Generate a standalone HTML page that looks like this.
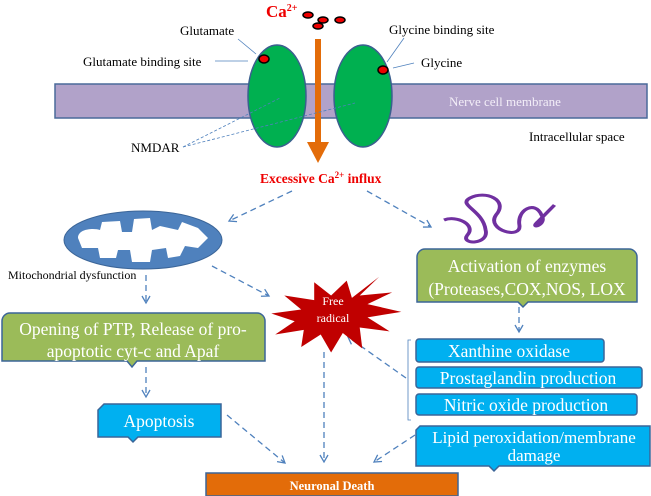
<!DOCTYPE html>
<html><head><meta charset="utf-8"><style>
body{margin:0;background:#fff;}
svg{display:block;font-family:"Liberation Serif",serif;}
</style></head><body>
<svg width="651" height="496" viewBox="0 0 651 496" xmlns="http://www.w3.org/2000/svg">
<defs>
<marker id="ah" markerWidth="10" markerHeight="10" refX="8" refY="5" orient="auto" markerUnits="userSpaceOnUse">
<path d="M1,1 L8,5 L1,9" fill="none" stroke="#4f81bd" stroke-width="1.3"/></marker>
</defs>
<!-- membrane -->
<rect x="55" y="84" width="592" height="34" fill="#b1a2c9" stroke="#4a6a9a" stroke-width="1.5"/>
<text x="449" y="106" font-size="13" fill="#f3eef8">Nerve cell membrane</text>
<!-- ellipses -->
<ellipse cx="277" cy="96" rx="29" ry="51" fill="#00b050" stroke="#3b5f8f" stroke-width="1.5"/>
<ellipse cx="363" cy="96" rx="29" ry="51" fill="#00b050" stroke="#3b5f8f" stroke-width="1.5"/>
<!-- arrow -->
<rect x="315" y="39" width="6" height="106" fill="#e36c09"/>
<polygon points="307,142 329,142 318,163" fill="#e36c09"/>
<text x="266" y="17" font-size="17" font-weight="bold" fill="#e00">Ca<tspan font-size="10" dy="-6">2+</tspan></text>
<g fill="#e00" stroke="#000" stroke-width="1.5">
<ellipse cx="308" cy="15" rx="5" ry="3"/><ellipse cx="323" cy="20" rx="5" ry="3"/>
<ellipse cx="340" cy="20" rx="5" ry="3"/><ellipse cx="318" cy="26" rx="5" ry="3"/>
<ellipse cx="264" cy="59" rx="5" ry="4"/><ellipse cx="383" cy="70" rx="5" ry="4"/>
</g>
<g font-size="13" fill="#000">
<text x="180" y="35">Glutamate</text>
<text x="83" y="66">Glutamate binding site</text>
<text x="389" y="34">Glycine binding site</text>
<text x="421" y="67">Glycine</text>
<text x="529" y="141">Intracellular space</text>
<text x="131" y="152">NMDAR</text>
</g>
<g stroke="#4f81bd" stroke-width="0.8" fill="none">
<line x1="238" y1="39" x2="256" y2="54"/><line x1="215" y1="61" x2="248" y2="61"/>
<line x1="404" y1="38" x2="387" y2="62"/><line x1="414" y1="63" x2="393" y2="68"/>
<line x1="183" y1="147" x2="280" y2="98" stroke-dasharray="3,2"/>
<line x1="183" y1="147" x2="355" y2="103" stroke-dasharray="3,2"/>
</g>
<text x="260" y="183" font-size="13.5" font-weight="bold" fill="#e00">Excessive Ca<tspan font-size="9" dy="-5">2+</tspan><tspan dy="5"> influx</tspan></text>
<!-- mitochondrion -->
<ellipse cx="143" cy="240" rx="79" ry="29" fill="#4f81bd" stroke="#3b6598"/>
<path d="M78,238 C78,228 95,228 100,230 L102,222 L120,221 L122,232 L132,232 L134,219 L150,218 L152,230 L160,226 L178,230 L182,222 L198,228 L208,238 L198,248 L185,246 L180,256 L168,258 L166,248 L152,250 L150,262 L132,262 L130,250 L118,250 L116,258 L100,258 L98,248 L82,248 Z" fill="#fff"/>
<text x="8" y="279" font-size="12">Mitochondrial dysfunction</text>
<!-- coil -->
<path transform="translate(444,0) scale(1.3,1) translate(-360,0)" d="M360,220 C370,215 385,225 378,235 C372,245 395,245 392,230 C390,210 370,205 380,198 C392,190 410,200 400,215 C392,230 420,240 418,225 C416,210 430,200 435,215 C440,225 425,230 432,222 L445,205" fill="none" stroke="#7030a0" stroke-width="3"/>
<!-- dashed arrows -->
<g stroke="#4f81bd" stroke-width="1.3" stroke-dasharray="6,4" fill="none" marker-end="url(#ah)">
<line x1="292" y1="191" x2="229" y2="221"/>
<line x1="367" y1="191" x2="431" y2="227"/>
<line x1="146" y1="275" x2="146" y2="303"/>
<line x1="212" y1="266" x2="269" y2="296"/>
<line x1="146" y1="367" x2="146" y2="397"/>
<line x1="519" y1="307" x2="519" y2="332"/>
<line x1="406" y1="378" x2="348" y2="337"/>
<line x1="227" y1="415" x2="285" y2="463"/>
<line x1="324" y1="352" x2="324" y2="462"/>
<line x1="415" y1="435" x2="374" y2="462"/>
</g>
<!-- star -->
<g transform="translate(335,315) scale(1.3,0.78) translate(-271,-297)">
<polygon points="305,248 290,272 315,268 296,283 322,293 296,300 313,318 290,313 292,340 277,320 268,345 260,322 245,338 247,316 225,322 240,305 222,295 245,290 232,272 255,278 255,255 268,272 280,253 284,275" fill="#c00000"/>
</g>
<text x="333" y="305" font-size="12" fill="#fff" text-anchor="middle">Free</text>
<text x="333" y="322" font-size="12" fill="#fff" text-anchor="middle">radical</text>
<!-- boxes -->
<g stroke="#3b6598" stroke-width="1.5">
<path d="M425,249 H629 a8,8 0 0 1 8,8 V302 H528 L523,307 L518,302 H417 V257 a8,8 0 0 1 8,-8Z" fill="#9bbb59"/>
<path d="M10,313 H257 a8,8 0 0 1 8,8 V361 H137 L132,367 L127,361 H2 V321 a8,8 0 0 1 8,-8Z" fill="#9bbb59"/>
<g fill="#00b0f0">
<rect x="416" y="339" width="188" height="23" rx="3"/>
<rect x="416" y="367" width="226" height="21" rx="3"/>
<rect x="416" y="394" width="221" height="21" rx="3"/>
<path d="M420,426 H650 V466 H499 L494,471 L489,466 H416 V430Z"/>
<path d="M104,404 H221 V437 H138 L133,442 L128,437 H98 V410Z"/>
</g>
</g>
<rect x="206" y="473" width="252" height="23" fill="#e36c09" stroke="#3b6598" stroke-width="1.5"/>
<path d="M411,340 H408 V420 H411" fill="none" stroke="#4f81bd" stroke-width="0.8"/>
<g fill="#fff" font-size="17.5" text-anchor="middle">
<text x="527" y="272">Activation of  enzymes</text>
<text x="527" y="295">(Proteases,COX,NOS, LOX</text>
<text x="133" y="335">Opening of PTP, Release of pro-</text>
<text x="133" y="357">apoptotic  cyt-c and Apaf</text>
<text x="509" y="357">Xanthine oxidase</text>
<text x="528" y="384">Prostaglandin production</text>
<text x="526" y="411">Nitric oxide production</text>
<text x="534" y="443" font-size="17">Lipid peroxidation/membrane</text>
<text x="534" y="461" font-size="17">damage</text>
<text x="159" y="427">Apoptosis</text>
<text x="332" y="490" font-size="12.5" font-weight="bold">Neuronal Death</text>
</g>
</svg>
</body></html>
